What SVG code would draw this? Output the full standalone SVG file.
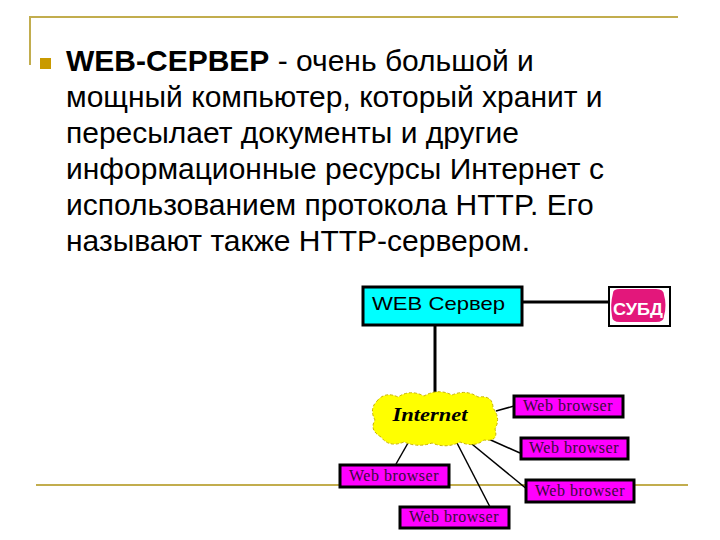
<svg xmlns="http://www.w3.org/2000/svg" width="720" height="540" viewBox="0 0 720 540">
<style>
.frame{stroke:#C2AD4E;stroke-width:2;fill:none}
.body{font-family:"Liberation Sans",Arial,sans-serif;font-size:30px;fill:#000}
.conn{stroke:#000;fill:none}
.thick{stroke-width:3}
.thin{stroke-width:1.5}
.wb rect{fill:#FF00FF;stroke:#000;stroke-width:3}
.wb text{font-family:"Liberation Serif","Times New Roman",serif;font-size:16px;letter-spacing:0.5px;fill:#3A0A3A;text-anchor:middle}
</style>
<rect width="720" height="540" fill="#fff"/>
<g id="frame">
<path class="frame" d="M30,65 V17 H678"/>
<path class="frame" d="M36,485 H688"/>
<rect x="40" y="58" width="11" height="11" fill="#C99A00"/>
</g>
<g id="text" class="body">
<text x="66" y="71"><tspan font-weight="bold">WEB-СЕРВЕР</tspan> - очень большой и</text>
<text x="66" y="107">мощный компьютер, который хранит и</text>
<text x="66" y="143">пересылает документы и другие</text>
<text x="66" y="179">информационные ресурсы Интернет с</text>
<text x="66" y="215">использованием протокола HTTP. Его</text>
<text x="66" y="251">называют также HTTP-сервером.</text>
</g>
<g id="connectors">
<line class="conn thick" x1="522" y1="302" x2="610" y2="302"/>
<line class="conn thick" x1="435" y1="325" x2="435" y2="396"/>
<line class="conn thin" x1="496" y1="411" x2="514" y2="406"/>
<line class="conn thin" x1="484" y1="437" x2="520" y2="453"/>
<line class="conn thin" x1="467" y1="440" x2="528" y2="490"/>
<line class="conn thin" x1="457" y1="443" x2="490" y2="507"/>
<line class="conn thin" x1="408" y1="443" x2="396" y2="464"/>
</g>
<g id="web-server">
<rect x="363" y="287" width="159" height="38" fill="#00FFFF" stroke="#000" stroke-width="3"/>
<text x="372" y="310" font-family="Liberation Sans,Arial,sans-serif" font-size="19" textLength="133" lengthAdjust="spacingAndGlyphs">WEB Сервер</text>
</g>
<g id="subd">
<rect x="609" y="287" width="61" height="39" fill="#fff" stroke="#000" stroke-width="2"/>
<path d="M613,293 Q613,289 620,289 H656 Q664,289 664,295 Q667,305 664,316 Q664,322 656,322 H620 Q612,322 612,316 Q610,305 613,293 Z" fill="#E3177B"/>
<text x="638" y="315" font-family="Liberation Sans,Arial,sans-serif" font-size="17" font-weight="bold" fill="#fff" text-anchor="middle" textLength="50" lengthAdjust="spacingAndGlyphs">СУБД</text>
</g>
<g id="internet">
<path d="M377,401 Q385,391 398,397 Q410,389 424,396 Q438,388 452,395 Q466,389 478,397 Q493,395 493,408 Q501,418 495,429 Q499,442 484,440 Q474,448 460,442 Q446,449 432,443 Q418,448 404,442 Q389,448 381,437 Q369,430 375,420 Q369,409 377,401 Z" fill="#FFFF00" stroke="#C8B200" stroke-width="1" stroke-dasharray="3 2"/>
<text x="430" y="421" font-family="Liberation Serif,serif" font-size="19" font-weight="bold" font-style="italic" text-anchor="middle" textLength="75" lengthAdjust="spacingAndGlyphs">Internet</text>
</g>
<g id="browser1" class="wb"><rect x="514" y="396" width="109" height="21"/><text x="568" y="411">Web browser</text></g>
<g id="browser2" class="wb"><rect x="521" y="438" width="107" height="21"/><text x="574" y="453">Web browser</text></g>
<g id="browser3" class="wb"><rect x="526" y="480" width="108" height="22"/><text x="580" y="496">Web browser</text></g>
<g id="browser4" class="wb"><rect x="340" y="465" width="109" height="22"/><text x="394" y="481">Web browser</text></g>
<g id="browser5" class="wb"><rect x="400" y="507" width="109" height="21"/><text x="454" y="522">Web browser</text></g>
</svg>
